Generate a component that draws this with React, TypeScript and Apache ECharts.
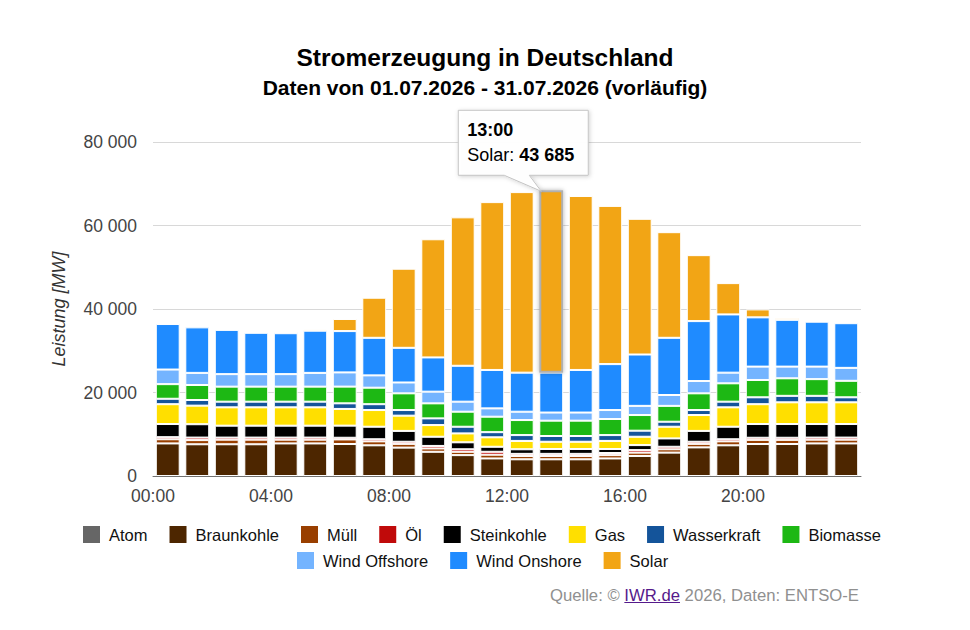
import React, { useEffect, useRef } from 'react';
import * as echarts from 'echarts';

const FONT = '"Liberation Sans", Arial, Helvetica, sans-serif';

const hours = [
  '00:00', '01:00', '02:00', '03:00', '04:00', '05:00', '06:00', '07:00',
  '08:00', '09:00', '10:00', '11:00', '12:00', '13:00', '14:00', '15:00',
  '16:00', '17:00', '18:00', '19:00', '20:00', '21:00', '22:00', '23:00',
];

const atom = [0, 0, 0, 0, 0, 0, 0, 0, 0, 0, 0, 0, 0, 0, 0, 0, 0, 0, 0, 0, 0, 0, 0, 0];
const braunkohle = [7800, 7600, 7600, 7600, 7800, 7800, 7660, 7350, 6800, 5800, 5000, 4200, 4000, 4000, 4000, 4200, 4800, 5600, 6850, 7350, 7660, 7660, 7800, 7800];
const muell = [1000, 1000, 1100, 1100, 900, 900, 1100, 950, 900, 800, 800, 900, 800, 800, 800, 800, 800, 800, 850, 950, 1000, 1000, 900, 900];
const oel = [500, 600, 500, 500, 500, 500, 400, 500, 500, 600, 600, 700, 500, 500, 500, 500, 600, 600, 500, 500, 500, 500, 500, 500];
const steinkohle = [3150, 3200, 2850, 2850, 2850, 2850, 2900, 3000, 2600, 2200, 1670, 1200, 1100, 1170, 1170, 970, 1200, 2000, 2600, 3000, 3290, 3290, 3250, 3250];
const gas = [4750, 4450, 4400, 4400, 4400, 4400, 4000, 4000, 3650, 2800, 2130, 2270, 2000, 1730, 1730, 1930, 2000, 2800, 3800, 4650, 4750, 5200, 5200, 5200];
const wasserkraft = [1300, 1350, 1350, 1350, 1350, 1350, 1350, 1400, 1350, 1600, 1600, 1230, 1400, 1380, 1380, 1400, 1450, 1200, 1200, 1350, 1650, 1550, 1550, 1200];
const biomasse = [3500, 3600, 3600, 3600, 3600, 3600, 4000, 3950, 4000, 3600, 3600, 3700, 3600, 3670, 3670, 3850, 3750, 3800, 4000, 4400, 4150, 4200, 4000, 3950];
const windOffshore = [3500, 2900, 3000, 3000, 3000, 3300, 3400, 2950, 2600, 2800, 2400, 2000, 2000, 1950, 1950, 2150, 2200, 2600, 2950, 2550, 3200, 2800, 3000, 3100];
const windOnshore = [10900, 10900, 10600, 9900, 9800, 10100, 9900, 9000, 8300, 8200, 8600, 9200, 9350, 9550, 10200, 11000, 12300, 13700, 14350, 13950, 11800, 11200, 10760, 10700];
const solar = [0, 0, 0, 0, 300, 300, 2900, 9600, 18950, 28300, 35550, 40200, 43250, 43685, 41670, 37900, 32500, 25300, 15800, 7500, 1900, 400, 150, 0];

const seriesNames = ['Atom', 'Braunkohle', 'Müll', 'Öl', 'Steinkohle', 'Gas', 'Wasserkraft', 'Biomasse', 'Wind Offshore', 'Wind Onshore', 'Solar'];
const seriesData = [atom, braunkohle, muell, oel, steinkohle, gas, wasserkraft, biomasse, windOffshore, windOnshore, solar];
const seriesColors = ['#666666', '#4d2600', '#993f00', '#c00a0a', '#000000', '#ffdf00', '#14549a', '#1db814', '#74b4ff', '#1f8bff', '#f2a515'];

const xTickHours = [0, 4, 8, 12, 16, 20, 24];
const yMax = 80000;
const yStep = 20000;

const hoverIndex = 13;
const hoverSeries = 'Solar';

const footerPre = 'Quelle: © ';
const footerLink = 'IWR.de';
const footerPost = ' 2026, Daten: ENTSO-E';

const fmt = (v: number) => String(Math.round(v)).replace(/\B(?=(\d{3})+(?!\d))/g, ' ');
const pad = (h: number) => (h < 10 ? '0' + h : String(h)) + ':00';

function measure(text: string, font: string): number {
  const c = document.createElement('canvas').getContext('2d');
  if (!c) return text.length * 8;
  c.font = font;
  return c.measureText(text).width;
}

export default function App() {
  const ref = useRef<HTMLDivElement>(null);

  useEffect(() => {
    if (!ref.current) return;
    const chart = echarts.init(ref.current, null, { renderer: 'svg' });

    const series = seriesNames.map((name, k) => ({
      name,
      type: 'bar',
      stack: 'total',
      xAxisIndex: 0,
      yAxisIndex: 0,
      barWidth: '81%',
      emphasis: { disabled: true },
      itemStyle: { color: seriesColors[k], borderColor: '#ffffff', borderWidth: 1 },
      data: seriesData[k].map((v, i) => {
        if (v === 0) return '-';
        if (name === hoverSeries && i === hoverIndex) {
          return {
            value: v,
            itemStyle: {
              borderColor: '#b0b0b0',
              borderWidth: 2,
              shadowBlur: 4,
              shadowColor: 'rgba(0,0,0,0.3)',
            },
          };
        }
        return v;
      }),
    }));

    const legendText = { fontFamily: FONT, fontSize: 16.5, color: '#111', padding: [0, 0, 0, 4] };

    chart.setOption({
      animation: false,
      textStyle: { fontFamily: FONT },
      title: [
        {
          text: 'Stromerzeugung in Deutschland',
          left: 'center',
          top: 45,
          padding: 0,
          textStyle: { fontFamily: FONT, fontSize: 24.5, fontWeight: 'bold', color: '#000' },
        },
        {
          text: 'Daten von 01.07.2026 - 31.07.2026 (vorläufig)',
          left: 'center',
          top: 77,
          padding: 0,
          textStyle: { fontFamily: FONT, fontSize: 21, fontWeight: 'bold', color: '#000' },
        },
      ],
      legend: [
        {
          data: seriesNames.slice(0, 8),
          left: 83,
          top: 526,
          padding: 0,
          itemWidth: 17,
          itemHeight: 17,
          itemGap: 22,
          icon: 'rect',
          itemStyle: { borderWidth: 0 },
          textStyle: legendText,
          selectedMode: false,
        },
        {
          data: seriesNames.slice(8),
          left: 297,
          top: 552,
          padding: 0,
          itemWidth: 17,
          itemHeight: 17,
          itemGap: 22,
          icon: 'rect',
          itemStyle: { borderWidth: 0 },
          textStyle: legendText,
          selectedMode: false,
        },
      ],
      grid: { left: 153, right: 109, top: 142, bottom: 154, containLabel: false },
      xAxis: [
        {
          type: 'category',
          data: hours,
          show: false,
          boundaryGap: true,
        },
        {
          type: 'value',
          gridIndex: 0,
          position: 'bottom',
          min: xTickHours[0],
          max: xTickHours[xTickHours.length - 1],
          interval: xTickHours[1] - xTickHours[0],
          axisLine: { show: true, lineStyle: { color: '#707070', width: 1 } },
          axisTick: { show: false },
          splitLine: { show: false },
          axisLabel: {
            showMaxLabel: false,
            margin: 11,
            fontFamily: FONT,
            fontSize: 17.5,
            color: '#444',
            formatter: (v: number) => pad(v),
          },
        },
      ],
      yAxis: {
        type: 'value',
        min: 0,
        max: yMax,
        interval: yStep,
        name: 'Leistung [MW]',
        nameLocation: 'middle',
        nameGap: 85,
        nameTextStyle: { fontFamily: FONT, fontSize: 18, fontStyle: 'italic', color: '#333' },
        axisLine: { show: false },
        axisTick: { show: false },
        splitLine: { lineStyle: { color: '#d8d8d8', width: 1 } },
        axisLabel: {
          margin: 16,
          fontFamily: FONT,
          fontSize: 17.5,
          color: '#444',
          formatter: (v: number) => fmt(v),
        },
      },
      series,
    });

    const total = seriesData.reduce((s, arr) => s + arr[hoverIndex], 0);
    const hoverValue = seriesData[seriesNames.indexOf(hoverSeries)][hoverIndex];
    const [cx, ty] = chart.convertToPixel({ xAxisIndex: 0, yAxisIndex: 0 }, [hoverIndex, total]) as number[];

    const footFontSize = 16.7;
    const footFont = footFontSize + 'px ' + FONT;
    const footRight = 859;
    const wAll = measure(footerPre + footerLink + footerPost, footFont);
    const wPre = measure(footerPre, footFont);
    const wLink = measure(footerLink, footFont);
    const linkX = footRight - wAll + wPre;

    chart.setOption({
      graphic: [
        {
          type: 'polygon',
          z: 100,
          shape: {
            points: [
              [cx - 93, ty - 80],
              [cx + 37, ty - 80],
              [cx + 37, ty - 15],
              [cx - 22, ty - 15],
              [cx - 10, ty + 1],
              [cx - 47, ty - 15],
              [cx - 93, ty - 15],
            ],
          },
          style: {
            fill: 'rgba(255,255,255,0.96)',
            stroke: '#c4c4c4',
            lineWidth: 1,
            shadowBlur: 4,
            shadowOffsetX: 1,
            shadowOffsetY: 1,
            shadowColor: 'rgba(0,0,0,0.18)',
          },
        },
        {
          type: 'text',
          z: 101,
          x: cx - 84,
          y: ty - 60,
          style: {
            text: hours[hoverIndex],
            fontFamily: FONT,
            fontSize: 18,
            fontWeight: 'bold',
            fill: '#000',
            verticalAlign: 'middle',
            align: 'left',
          },
        },
        {
          type: 'text',
          z: 101,
          x: cx - 84,
          y: ty - 35,
          style: {
            text: '{a|' + hoverSeries + ': }{b|' + fmt(hoverValue) + '}',
            verticalAlign: 'middle',
            align: 'left',
            rich: {
              a: { fontFamily: FONT, fontSize: 18, fill: '#000', color: '#000' },
              b: { fontFamily: FONT, fontSize: 18, fontWeight: 'bold', fill: '#000', color: '#000' },
            },
          },
        },
        {
          type: 'text',
          x: footRight,
          y: 595,
          style: {
            text: '{g|' + footerPre + '}{l|' + footerLink + '}{g|' + footerPost + '}',
            align: 'right',
            verticalAlign: 'middle',
            rich: {
              g: { fontFamily: FONT, fontSize: footFontSize, fill: '#909090', color: '#909090' },
              l: { fontFamily: FONT, fontSize: footFontSize, fill: '#551a8b', color: '#551a8b' },
            },
          },
        },
        {
          type: 'line',
          shape: { x1: linkX, y1: 602.5, x2: linkX + wLink, y2: 602.5 },
          style: { stroke: '#551a8b', lineWidth: 1 },
        },
      ],
    });

    return () => chart.dispose();
  }, []);

  return (
    <div
      ref={ref}
      style={{ position: 'fixed', left: 0, top: 0, width: 970, height: 630, background: '#fff' }}
    />
  );
}
